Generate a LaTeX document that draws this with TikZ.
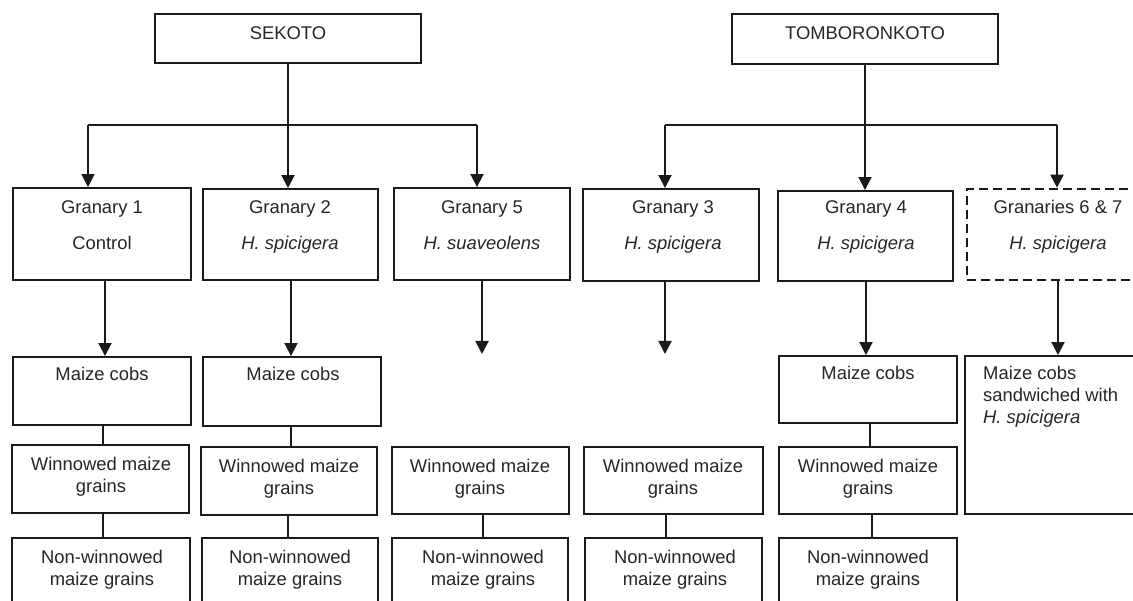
\documentclass[tikz,border=0pt]{standalone}
\usepackage{fontspec}
\setmainfont{Liberation Sans}
\usetikzlibrary{arrows.meta,fit}
\definecolor{ink}{HTML}{1A1A1A}
\definecolor{txtc}{HTML}{262626}
\begin{document}
\begin{tikzpicture}[x=1pt,y=-1pt,
  box/.style={draw=ink, line width=1.9pt, inner sep=0pt, fill=none},
  dbox/.style={box, line width=2.6pt, dash pattern=on 9pt off 5pt},
  txt/.style={anchor=base, inner sep=0pt, text=txtc, font=\fontsize{18.4}{22}\selectfont},
  ltxt/.style={txt, anchor=base west},
  conn/.style={draw=ink, line width=1.9pt},
  arr/.style={conn, -{Triangle[length=13pt,width=13pt]}}]
\useasboundingbox (0,0) rectangle (1133,601);
\clip (0,0) rectangle (1133,601);
\fill[white] (0,0) rectangle (1133,601);

% top boxes
\node[box, fit={(155,14) (421,63)}] (sek) {};
\node[box, fit={(732,14) (998,64)}] (tom) {};
\node[txt] (tsek) at (288,39.5) {SEKOTO};
\node[txt] (ttom) at (865,39.5) {TOMBORONKOTO};

% granaries
\node[box, fit={(13,188) (191,280)}] (g1) {};
\node[box, fit={(203,189) (378,280)}] (g2) {};
\node[box, fit={(394,188) (570,280)}] (g5) {};
\node[box, fit={(583,189) (759,281)}] (g3) {};
\node[box, fit={(778,191) (953,281)}] (g4) {};
\node[dbox, fit={(967,189) (1170,280)}] (g67) {};

\node[txt] (tg1a) at (102,213.5) {Granary 1};
\node[txt] (tg1b) at (102,249.5) {Control};
\node[txt] (tg2a) at (290,213.5) {Granary 2};
\node[txt] (tg2b) at (290,249.5) {\textit{H. spicigera}};
\node[txt] (tg5a) at (482,213.5) {Granary 5};
\node[txt] (tg5b) at (482,249.5) {\textit{H. suaveolens}};
\node[txt] (tg3a) at (673,213.5) {Granary 3};
\node[txt] (tg3b) at (673,249.5) {\textit{H. spicigera}};
\node[txt] (tg4a) at (866,213.5) {Granary 4};
\node[txt] (tg4b) at (866,249.5) {\textit{H. spicigera}};
\node[txt] (tg6a) at (1058,213.5) {Granaries 6 \& 7};
\node[txt] (tg6b) at (1058,249.5) {\textit{H. spicigera}};

% maize cobs
\node[box, fit={(13,357) (191,425)}] (c1) {};
\node[box, fit={(203,357) (381,426)}] (c2) {};
\node[box, fit={(779,356) (957,423)}] (c4) {};
\node[box, fit={(965,356) (1170,514)}] (c67) {};
\node[txt] (tc1) at (102,381) {Maize cobs};
\node[txt] (tc2) at (293,381) {Maize cobs};
\node[txt] (tc4) at (868,380) {Maize cobs};
\node[ltxt] (tc6a) at (983,380) {Maize cobs};
\node[ltxt] (tc6b) at (983,402) {sandwiched with};
\node[ltxt] (tc6c) at (983,424) {\textit{H. spicigera}};

% winnowed
\node[box, fit={(12,445) (189,513)}] (w1) {};
\node[box, fit={(201,447) (377,515)}] (w2) {};
\node[box, fit={(392,447) (569,514)}] (w5) {};
\node[box, fit={(584,447) (763,514)}] (w3) {};
\node[box, fit={(779,447) (957,514)}] (w4) {};
\foreach \n/\x/\y in {w1/101/471, w2/289/472, w5/480/472, w3/673/472, w4/868/472}{
  \node[txt] (t\n a) at (\x,\y) {Winnowed maize};
  \node[txt] (t\n b) at (\x,\y+22) {grains};
}

% non-winnowed
\node[box, fit={(12,538) (190,680)}] (n1) {};
\node[box, fit={(202,538) (378,680)}] (n2) {};
\node[box, fit={(392,538) (568,680)}] (n5) {};
\node[box, fit={(585,538) (762,680)}] (n3) {};
\node[box, fit={(779,538) (957,680)}] (n4) {};
\foreach \n/\x in {n1/102, n2/290, n5/483, n3/675, n4/868}{
  \node[txt] (t\n a) at (\x,563) {Non-winnowed};
  \node[txt] (t\n b) at (\x,585) {maize grains};
}

% bars
\coordinate (sbL) at (88,125);
\coordinate (sbR) at (477,125);
\coordinate (tbL) at (665,125);
\coordinate (tbR) at (1057,125);
\draw[conn] (sbL) -- (sbR);
\draw[conn] (tbL) -- (tbR);
\draw[arr] (sek.south) -- (sek.south |- g2.north);
\draw[arr] (sbL) -- (sbL |- g1.north);
\draw[arr] (sbR) -- (sbR |- g5.north);
\draw[arr] (tom.south) -- (tom.south |- g4.north);
\draw[arr] (tbL) -- (tbL |- g3.north);
\draw[arr] (tbR) -- (tbR |- g67.north);

% granary -> cobs
\coordinate (e5) at (482,354);
\coordinate (e3) at (665,354);
\draw[arr] (105,0 |- g1.south) -- (105,0 |- c1.north);
\draw[arr] (291,0 |- g2.south) -- (291,0 |- c2.north);
\draw[arr] (e5 |- g5.south) -- (e5);
\draw[arr] (e3 |- g3.south) -- (e3);
\draw[arr] (866,0 |- g4.south) -- (866,0 |- c4.north);
\draw[arr] (1058,0 |- g67.south) -- (1058,0 |- c67.north);

% cobs -> winnowed
\draw[conn] (103,0 |- c1.south) -- (103,0 |- w1.north);
\draw[conn] (291,0 |- c2.south) -- (291,0 |- w2.north);
\draw[conn] (870,0 |- c4.south) -- (870,0 |- w4.north);

% winnowed -> non-winnowed
\draw[conn] (103,0 |- w1.south) -- (103,0 |- n1.north);
\draw[conn] (288,0 |- w2.south) -- (288,0 |- n2.north);
\draw[conn] (483,0 |- w5.south) -- (483,0 |- n5.north);
\draw[conn] (666,0 |- w3.south) -- (666,0 |- n3.north);
\draw[conn] (872,0 |- w4.south) -- (872,0 |- n4.north);
\end{tikzpicture}
\end{document}
